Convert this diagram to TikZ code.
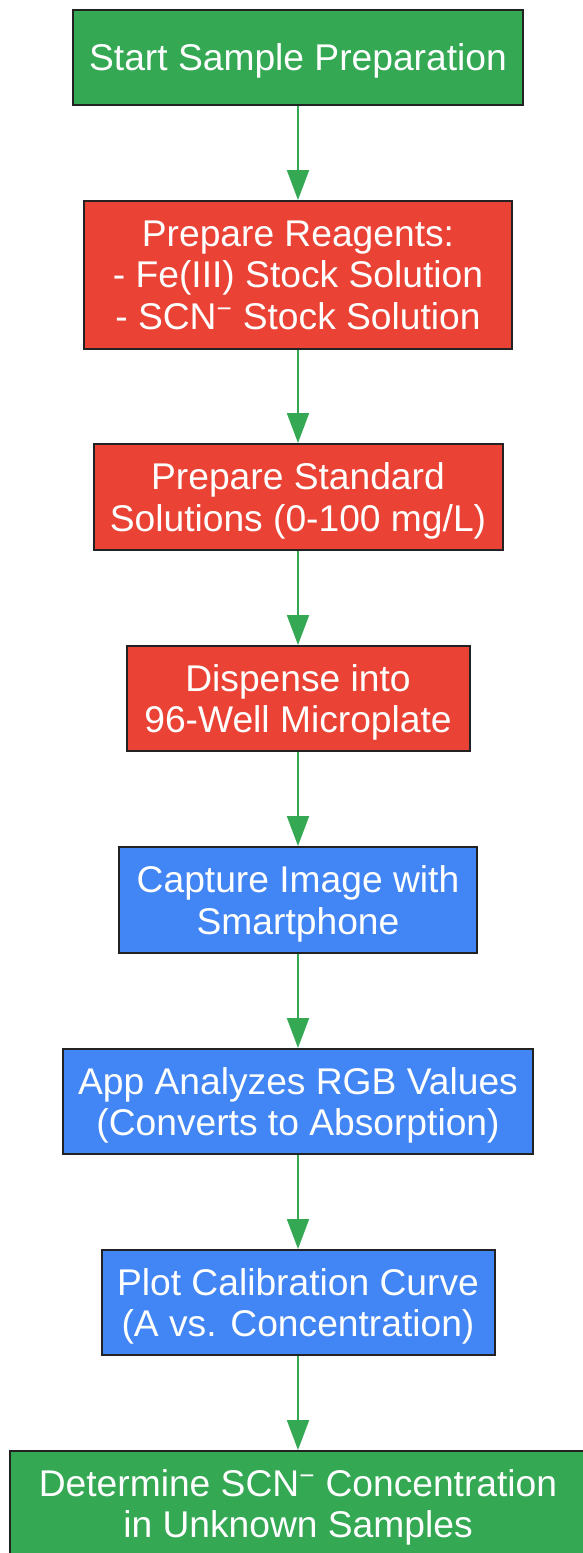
\documentclass[tikz,border=0pt]{standalone}
\usepackage{fontspec}
\setmainfont{Liberation Sans}
\usetikzlibrary{arrows.meta}

\definecolor{startgreen}{HTML}{34A853}
\definecolor{prepred}{HTML}{EA4335}
\definecolor{imgblue}{HTML}{4285F4}
\definecolor{boxline}{HTML}{222222}

\begin{document}
\begin{tikzpicture}[x=0.75pt, y=-0.75pt,
	box/.style={draw=boxline, line width=1.5pt, text=white, align=center, inner sep=0pt,
		text depth=0pt, font=\fontsize{27.9}{31.1}\selectfont},
	green box/.style={box, fill=startgreen},
	red box/.style={box, fill=prepred},
	blue box/.style={box, fill=imgblue},
	flow/.style={draw=startgreen, line width=1.5pt, -{Triangle[width=16.5pt,length=22.5pt]}}]
	\useasboundingbox (0,0) rectangle (582,1553);
	\node[green box, minimum width=337.5pt, minimum height=71.25pt] (S) at (298,57.5) {Start Sample Preparation};
	\node[red box, minimum width=321pt, minimum height=111pt] (R) at (298,275) {Prepare Reagents:\\- Fe(III) Stock Solution\\- SCN\textsuperscript{−} Stock Solution};
	\node[red box, minimum width=306.75pt, minimum height=79.5pt] (Std) at (298,497) {Prepare Standard\\Solutions (0-100 mg/L)};
	\node[red box, minimum width=257.25pt, minimum height=78.75pt] (D) at (298,698.5) {Dispense into\\96-Well Microplate};
	\node[blue box, minimum width=268.5pt, minimum height=79.5pt] (C) at (298,900) {Capture Image with\\Smartphone};
	\node[blue box, minimum width=352.5pt, minimum height=78.75pt] (A) at (298,1101.5) {App Analyzes RGB Values\\(Converts to Absorption)};
	\node[blue box, minimum width=294.75pt, minimum height=78.75pt] (P) at (298,1302.5) {Plot Calibration Curve\\(A vs. Concentration)};
	\node[green box, minimum width=432.75pt, minimum height=78.75pt] (U) at (298,1503.5) {Determine SCN\textsuperscript{−} Concentration\\in Unknown Samples};
	\draw[flow] (S) to (R);
	\draw[flow] (R) to (Std);
	\draw[flow] (Std) to (D);
	\draw[flow] (D) to (C);
	\draw[flow] (C) to (A);
	\draw[flow] (A) to (P);
	\draw[flow] (P) to (U);
\end{tikzpicture}
\end{document}
